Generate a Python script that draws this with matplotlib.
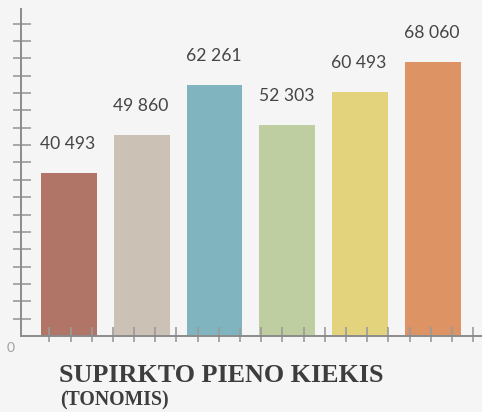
import numpy as np
import matplotlib
matplotlib.use('Agg')
import matplotlib.pyplot as plt

# data
values = [40493, 49860, 62261, 52303, 60493, 68060]
labels = ['40 493', '49 860', '62 261', '52 303', '60 493', '68 060']
colors = ['#b07566', '#cbc1b4', '#80b4bf', '#bfcea1', '#e3d37c', '#de9364']
title = 'SUPIRKTO PIENO KIEKIS'
subtitle = '(TONOMIS)'

bg = '#f5f5f5'
W, H = 482, 412
fig = plt.figure(figsize=(W / 100, H / 100), dpi=100, facecolor=bg)
ax = fig.add_axes([21 / W, (H - 336) / H, 1 - 21 / W, 326.7 / H])
ax.set_facecolor(bg)

x = np.arange(len(values))
ax.bar(x, values, width=0.765, color=colors, zorder=1)
for xi, v, lab in zip(x, values, labels):
    ax.annotate(lab, (xi, v), xytext=(-1, 21), textcoords='offset pixels',
                ha='center', va='bottom', fontsize=12.6, family='Lato',
                color='#454545')

ax.set_xlim(-0.658, 5.675)
ax.set_ylim(0, 81150)

for s in ['top', 'right']:
    ax.spines[s].set_visible(False)
for s in ['left', 'bottom']:
    ax.spines[s].set_color('#8c8c8c')
    ax.spines[s].set_linewidth(1.4)

# ticks crossing the axis lines: major goes out, minor goes in
xt = np.arange(-0.269, 5.68, 0.2911)
yt = np.arange(4310, 80000, 4310)
ax.set_xticks(xt)
ax.set_xticks(xt, minor=True)
ax.set_yticks(yt)
ax.set_yticks(yt, minor=True)
ax.xaxis.remove_overlapping_locs = False
ax.yaxis.remove_overlapping_locs = False
ax.tick_params(axis='x', which='major', direction='out', length=4, width=1.2,
               color='#9a9a9a', labelbottom=False)
ax.tick_params(axis='x', which='minor', direction='in', length=6.2, width=1.2,
               color='#9a9a9a', labelbottom=False)
ax.tick_params(axis='y', which='major', direction='out', length=5.5, width=1.2,
               color='#9a9a9a', labelleft=False)
ax.tick_params(axis='y', which='minor', direction='in', length=7.4, width=1.2,
               color='#9a9a9a', labelleft=False)

fig.text(11 / W, 1 - 348 / H, '0', fontsize=10, family='Lato', color='#a0a0a0',
         ha='center', va='center')
fig.text(59 / W, 1 - 382 / H, title, fontsize=18.8, family='Liberation Serif',
         weight='bold', color='#3d3d3d', ha='left', va='baseline')
fig.text(60 / W, 1 - 405 / H, subtitle, fontsize=14.2, family='Liberation Serif',
         weight='bold', color='#3d3d3d', ha='left', va='baseline')

fig.savefig('out.png', dpi=100, facecolor=bg)
